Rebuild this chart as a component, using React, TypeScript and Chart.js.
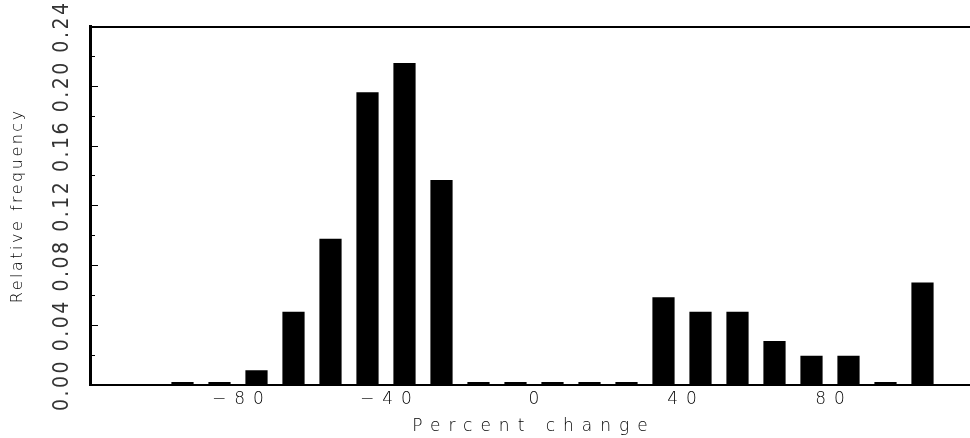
import React, { useEffect, useRef } from 'react';
import { Chart, registerables } from 'chart.js';

Chart.register(...registerables);

// Histogram bins (bin centers, width 10 percentage points)
const binCenters = [-95, -85, -75, -65, -55, -45, -35, -25, -15, -5, 5, 15, 25, 35, 45, 55, 65, 75, 85, 95, 105];
// Relative frequency
const relativeFrequency = [
  0, 0, 0.0098, 0.049, 0.098, 0.196, 0.2157, 0.1373, 0, 0, 0, 0, 0,
  0.0588, 0.049, 0.049, 0.0294, 0.0196, 0.0196, 0, 0.0686,
];
const xTickValues = [-80, -40, 0, 40, 80];
const yTickLabels = ['0.00', '0.04', '0.08', '0.12', '0.16', '0.20', '0.24'];
const xTitle = 'Percent change';
const yTitle = 'Relative frequency';

const spacingPlugin = {
  id: 'letterSpacingByLayer',
  beforeDraw(chart: any) {
    chart.ctx.letterSpacing = '2.5px';
  },
  afterDatasetsDraw(chart: any) {
    chart.ctx.letterSpacing = '8px';
  },
  afterDraw(chart: any) {
    chart.ctx.letterSpacing = '0px';
  },
};

export default function App() {
  const ref = useRef<HTMLCanvasElement>(null);

  useEffect(() => {
    const canvas = ref.current;
    if (!canvas) return;
    const chart = new Chart(canvas, {
      type: 'bar',
      data: {
        datasets: [
          {
            data: binCenters.map((x, i) => ({ x, y: relativeFrequency[i] })),
            backgroundColor: '#000',
            borderWidth: 0,
            barPercentage: 0.6,
            categoryPercentage: 1,
            minBarLength: 3,
          },
        ],
      },
      options: {
        responsive: false,
        animation: false,
        devicePixelRatio: 1,
        layout: { padding: 0 },
        plugins: { legend: { display: false }, tooltip: { enabled: false } },
        scales: {
          x: {
            type: 'linear',
            position: 'bottom',
            offset: false,
            min: -120,
            max: 120,
            afterFit: (s: any) => {
              s.height = 53;
            },
            grid: { display: false, offset: false, z: 1 },
            border: { display: true, color: '#000', width: 2, z: 1 },
            ticks: {
              stepSize: 40,
              autoSkip: false,
              maxRotation: 0,
              minRotation: 0,
              padding: -4,
              labelOffset: 4,
              z: 1,
              color: '#000',
              font: { family: '"DejaVu Sans", sans-serif', size: 17, weight: '200' as any },
              callback: (v: any) => {
                const n = Number(v);
                if (!xTickValues.includes(n)) return '';
                return n < 0 ? '\u2212' + Math.abs(n) : String(n);
              },
            },
            title: {
              display: true,
              text: xTitle,
              color: '#000',
              padding: { top: 0, bottom: 1 },
              font: { family: '"DejaVu Sans", sans-serif', size: 17, weight: '200' as any },
            },
          },
          x2: {
            type: 'linear',
            position: 'top',
            offset: false,
            min: -120,
            max: 120,
            afterFit: (s: any) => {
              s.height = 26;
            },
            grid: { display: false, offset: false },
            border: { display: true, color: '#000', width: 2 },
            ticks: { display: false },
          },
          y: {
            type: 'linear',
            position: 'left',
            min: 0,
            max: 0.24,
            afterFit: (s: any) => {
              s.width = 90;
            },
            border: { display: true, color: '#000', width: 3 },
            grid: {
              display: true,
              drawOnChartArea: false,
              drawTicks: true,
              tickLength: -8,
              tickColor: '#000',
              tickWidth: 1,
              tickBorderDash: (ctx: any) => {
                const idx = Math.round(ctx.tick.value / 0.02);
                return idx % 2 === 0 ? [] : [0, 3, 5, 100];
              },
            } as any,
            ticks: {
              stepSize: 0.02,
              autoSkip: false,
              minRotation: 90,
              maxRotation: 90,
              crossAlign: 'center',
              padding: 14,
              color: '#333',
              font: { family: '"Liberation Sans Narrow", "DejaVu Sans Condensed", sans-serif', size: 21 },
              callback: (v: any) => {
                const idx = Math.round(Number(v) / 0.02);
                return idx % 2 === 0 ? yTickLabels[idx / 2] : '';
              },
            },
            title: {
              display: true,
              text: yTitle,
              color: '#000',
              padding: { top: 8, bottom: 0 },
              font: { family: '"DejaVu Sans", sans-serif', size: 16, weight: '200' as any },
            },
          },
        },
      } as any,
      plugins: [spacingPlugin],
    });
    return () => chart.destroy();
  }, []);

  return (
    <div
      style={{
        position: 'fixed',
        left: 0,
        top: 0,
        width: 970,
        height: 438,
        overflow: 'hidden',
        background: '#fff',
      }}
    >
      <canvas ref={ref} width={978} height={438} style={{ display: 'block', width: 978, height: 438 }} />
    </div>
  );
}
